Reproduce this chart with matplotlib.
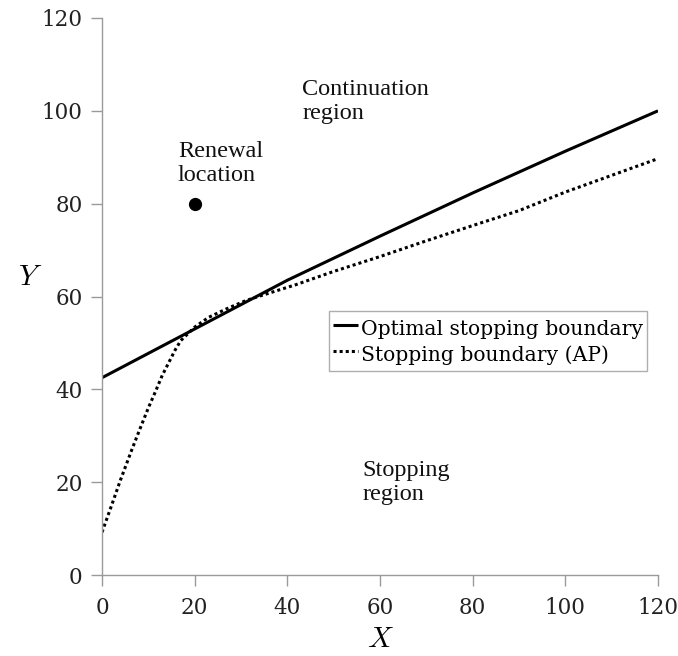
import matplotlib
matplotlib.use("Agg")
import matplotlib.pyplot as plt

# Data
opt_x = [0, 20, 40, 60, 80, 100, 120]
opt_y = [42.5, 53.0, 63.5, 73.0, 82.3, 91.3, 100.0]

ap_x = [0, 2, 4, 6.4, 8, 10, 11.4, 13, 15.8, 17, 20, 23, 27, 31, 35, 41.7, 50, 60, 70, 81.6, 90, 100, 110, 120]
ap_y = [9.2, 14.8, 20.5, 26.9, 31.0, 36.0, 39.2, 43.0, 48.5, 50.5, 53.4, 55.5, 57.4, 59.1, 60.4, 62.5, 65.4, 68.6, 72.0, 75.8, 78.5, 82.5, 86.1, 89.7]

renewal_x = [20]
renewal_y = [80]

x_ticks = [0, 20, 40, 60, 80, 100, 120]
y_ticks = [0, 20, 40, 60, 80, 100, 120]

plt.rcParams['mathtext.fontset'] = 'cm'

fig = plt.figure(figsize=(6.78, 6.56), dpi=100)
ax = fig.add_axes([102/678, 1 - 575/656, 556/678, 557/656])

ax.plot(opt_x, opt_y, color='black', lw=2.2, solid_capstyle='butt',
        label='Optimal stopping boundary')
ax.plot(ap_x, ap_y, color='black', lw=2.2, linestyle=(0, (1, 1)),
        label='Stopping boundary (AP)')
ax.plot(renewal_x, renewal_y, 'o', color='black', markersize=8.5)

ax.set_xlim(0, 120)
ax.set_ylim(0, 120)
ax.set_xticks(x_ticks)
ax.set_yticks(y_ticks)
tick_font = dict(family='DejaVu Serif', size=15.5)
ax.set_xticklabels([str(v) for v in x_ticks], **tick_font)
ax.set_yticklabels([str(v) for v in y_ticks], **tick_font)

for s in ['top', 'right']:
    ax.spines[s].set_visible(False)
for s in ['left', 'bottom']:
    ax.spines[s].set_color('#9a9a9a')
    ax.spines[s].set_linewidth(1.0)
ax.tick_params(axis='both', direction='out', length=8, width=1.0,
               color='#9a9a9a', labelcolor='#222222')
ax.tick_params(axis='x', pad=8)
ax.tick_params(axis='y', pad=6)

ax.set_xlabel('$X$', fontsize=21, labelpad=4)
ax.set_ylabel('$Y$', fontsize=21, rotation=0, va='center', ha='center')
ax.yaxis.set_label_coords(-0.13, 0.535)

ann = dict(family='Liberation Serif', size=17.5, color='#111111',
           linespacing=1.2, va='top', ha='left')
ax.text(43.2, 106.8, 'Continuation\nregion', **ann)
ax.text(16.4, 93.5, 'Renewal\nlocation', **ann)
ax.text(56.3, 24.8, 'Stopping\nregion', **ann)

leg = ax.legend(loc='upper left', bbox_to_anchor=((328.5-102)/556, (575-311)/557),
                borderaxespad=0, frameon=True, fancybox=False,
                prop=dict(family='DejaVu Serif', size=14.6),
                handlelength=1.26, handleheight=1.6, handletextpad=0.13,
                borderpad=0.2, labelspacing=0.0)
leg.get_frame().set_edgecolor('#9a9a9a')
leg.get_frame().set_linewidth(1.0)

fig.savefig('out.png', dpi=100)
